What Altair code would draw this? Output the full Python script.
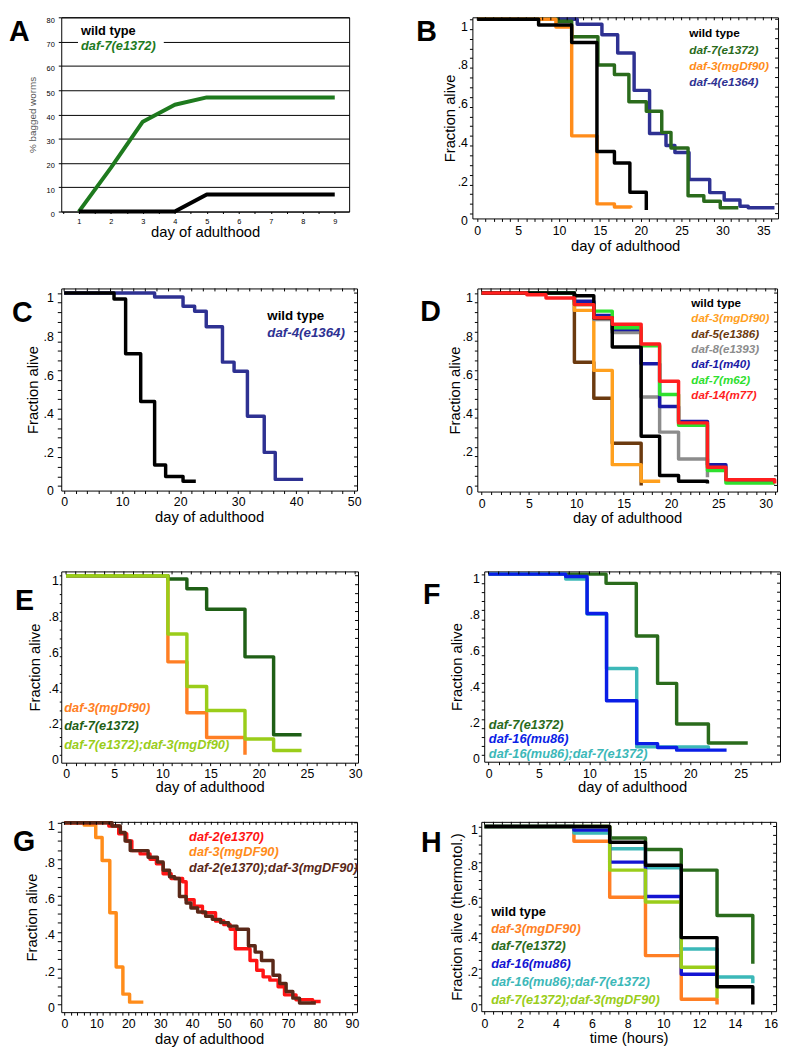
import altair as alt
import pandas as pd

FONT = "Liberation Sans"

# ---------------- Panel A data ----------------
A_DAYS = [1, 2, 3, 4, 5, 6, 7, 8, 9]
A_WILD = [0, 0, 0, 0, 7, 7, 7, 7, 7]
A_DAF7 = [0, 18, 37, 44, 47, 47, 47, 47, 47]
A_YTICKS = [0, 10, 20, 30, 40, 50, 60, 70, 80]

# ---------------- Panel B ----------------
B_WT_T = [0, 7.5, 11.55, 14.64, 16.78, 18.67, 20.68]
B_WT_V = [1, 0.97, 0.88, 0.32, 0.26, 0.11, 0.018]
B_D3_T = [0, 9.62, 11.55, 14.64, 16.78, 18.79]
B_D3_V = [1, 0.96, 0.40, 0.05, 0.034, 0.03]
B_D7_T = [0, 9.81, 11.55, 14.76, 16.78, 18.55, 20.68, 22.57, 23.7, 25.79, 27.72, 29.73, 31.94]
B_D7_V = [1, 0.99, 0.91, 0.765, 0.716, 0.576, 0.527, 0.418, 0.338, 0.092, 0.064, 0.03, 0.03]
B_D4_T = [0, 12.23, 15.25, 17.18, 19.19, 21.08, 23.09, 24.18, 25.91, 28.44, 30.21, 32.14, 33.15, 36.36]
B_D4_V = [1, 0.974, 0.92, 0.826, 0.634, 0.412, 0.35, 0.314, 0.175, 0.108, 0.07, 0.038, 0.03, 0.03]

# ---------------- Panel C ----------------
C_WT_T = [0, 8.6, 10.6, 13.2, 15.6, 17.5, 20.5, 22.7]
C_WT_V = [1, 0.969, 0.685, 0.438, 0.109, 0.049, 0.024, 0.024]
C_D4_T = [0, 15.6, 20.5, 22.5, 24.5, 27.3, 29.3, 31.6, 34.5, 36.4, 41.2]
C_D4_V = [1, 0.98, 0.932, 0.906, 0.825, 0.642, 0.595, 0.361, 0.174, 0.034, 0.034]

# ---------------- Panel D ----------------
D_STEPS = [0, 9.8, 11.85, 13.8, 16.85, 18.8, 20.8, 23.85, 25.8, 30.95]
D_WT_V = [1, 0.986, 0.87, 0.72, 0.256, 0.051, 0.022, 0.01]
D_D3_T = [0, 9.8, 11.85, 13.8, 16.85, 18.86]
D_D3_V = [1, 0.91, 0.598, 0.108, 0.022, 0.022]
D_D5_V = [1, 0.64, 0.453, 0.219, 0.0]
D_D8_V = [1, 0.95, 0.863, 0.795, 0.46, 0.277, 0.137, 0.043]
D_D1_V = [1, 0.957, 0.884, 0.81, 0.632, 0.41, 0.333, 0.108, 0.026, 0.026]
D_D7_V = [1, 0.94, 0.906, 0.82, 0.726, 0.473, 0.313, 0.077, 0.012, 0.012]
D_D14_T = [0, 4.78, 6.8, 9.8, 11.85, 13.8, 16.85, 18.8, 20.8, 23.85, 25.8, 30.95]
D_D14_V = [1, 0.991, 0.974, 0.94, 0.872, 0.838, 0.735, 0.542, 0.325, 0.094, 0.029, 0.01]

# ---------------- Panel E ----------------
E_STEPS = [0, 10.57, 12.54, 14.59, 18.57, 21.54, 24.44]
E_D3_V = [1, 0.519, 0.235, 0.097, 0.0]
E_D7_V = [1, 0.982, 0.927, 0.813, 0.547, 0.112, 0.112]
E_DD_V = [1, 0.675, 0.382, 0.248, 0.088, 0.024, 0.024]

# ---------------- Panel F ----------------
F_D7_T = [0, 11.65, 14.65, 16.76, 18.65, 21.8, 25.7]
F_D7_V = [1, 0.949, 0.658, 0.396, 0.172, 0.067, 0.067]
F_D16_T = [0, 7.65, 9.77, 11.7, 14.69, 16.76, 18.65, 23.6]
F_D16_V = [1, 0.987, 0.782, 0.300, 0.063, 0.042, 0.027, 0.027]
F_DD_T = [0, 7.65, 9.77, 11.7, 14.69, 21.8]
F_DD_V = [1, 0.973, 0.78, 0.478, 0.045, 0.028]

# ---------------- Panel G ----------------
G_D3_T = [0, 6.2, 9.8, 11.8, 14.2, 16.2, 18.3, 20.4, 24.7]
G_D3_V = [1, 0.987, 0.919, 0.793, 0.505, 0.207, 0.058, 0.014, 0.014]
G_D2_T = [0, 13.9, 17.0, 19.5, 21.1, 23.7, 26.8, 28.8, 30.9, 33.4, 37.0, 38.1, 40.6, 43.2, 47.3,
          49.9, 51.9, 53.5, 58.1, 60.2, 62.2, 64.3, 66.9, 68.9, 72.5, 77.7, 80.2]
G_D2_V = [1, 0.982, 0.94, 0.90, 0.847, 0.829, 0.80, 0.775, 0.72, 0.694, 0.676, 0.577, 0.541, 0.505, 0.46,
          0.44, 0.415, 0.307, 0.243, 0.189, 0.153, 0.135, 0.099, 0.054, 0.027, 0.018, 0.018]
G_DD_T = [0, 14.9, 17.5, 19.0, 20.6, 26.2, 29.1, 30.9, 32.9, 34.5, 36.0, 38.1, 39.6, 41.7, 44.2,
          46.3, 48.9, 51.4, 54.0, 57.6, 59.7, 61.7, 65.3, 67.4, 69.4, 71.5, 73.6, 78.7]
G_DD_V = [1, 0.982, 0.946, 0.90, 0.847, 0.81, 0.784, 0.739, 0.703, 0.694, 0.595, 0.559, 0.532, 0.51, 0.486,
          0.469, 0.451, 0.432, 0.415, 0.324, 0.289, 0.243, 0.162, 0.117, 0.072, 0.036, 0.009, 0.009]

# ---------------- Panel H ----------------
H_T6 = [0, 7, 9, 11, 13, 15]
H_T7 = [0, 5, 7, 9, 11, 13, 15]
H_WT_V = [1, 0.911, 0.782, 0.376, 0.1, 0.0]
H_D3_V = [1, 0.917, 0.603, 0.275, 0.03, 0.0]
H_D7_V = [1, 0.935, 0.871, 0.755, 0.5, 0.229]
H_D16_V = [1, 0.98, 0.80, 0.607, 0.17, 0.10]
H_DD16_V = [1, 0.963, 0.875, 0.768, 0.312, 0.155, 0.12]
H_DD73_V = [1, 0.755, 0.576, 0.21, 0.035]

# ---------------- colours ----------------
BLACK = "#000000"
DKGREEN = "#2a6b1c"
ORANGE = "#ff8c1a"
NAVY = "#2e3192"

FRACTION_TICKS = [round(i * 0.05, 2) for i in range(21)]
FRAC_EXPR = ("datum.value == 0 ? '0' : (datum.value == 1 ? '1' : "
             "(round(datum.value * 100) % 20 == 0 ? '.' + format(datum.value * 10, '.0f') : ''))")


def minor_values(lo, hi, step):
    n = int(round((hi - lo) / step))
    return [round(lo + i * step, 3) for i in range(n + 1)]


def x_axis(values, major, title, tick=3, pad=2, tp=2):
    expr = f"abs(datum.value / {major} - round(datum.value / {major})) < 0.001 ? format(datum.value, 'd') : ''"
    return alt.Axis(values=values, labelExpr=expr, title=title, tickSize=tick, labelPadding=pad,
                    titlePadding=tp, labelFontSize=12.5, titleFontSize=15, grid=False, domain=False,
                    labelOverlap=False)


def y_axis(title, tick=3, pad=2, tp=2, lo=4):
    return alt.Axis(values=FRACTION_TICKS, labelExpr=FRAC_EXPR, title=title, tickSize=tick,
                    labelPadding=pad, titlePadding=tp, labelOffset=lo, labelFontSize=12.5,
                    titleFontSize=15, grid=False, domain=False, labelOverlap=False)


def step_layer(t, v, color, X, Y, width=3.5):
    df = pd.DataFrame({"t": t, "v": v})
    return alt.Chart(df).mark_line(interpolate="step-after", color=color, strokeWidth=width,
                                   strokeJoin="round", strokeCap="butt").encode(x=X, y=Y)


def text_layer(txt, color, px, py, size=13, weight="bold", style="normal"):
    return alt.Chart(pd.DataFrame({"k": [0]})).mark_text(
        text=txt, color=color, align="left", baseline="middle", font=FONT, fontSize=size,
        fontWeight=weight, fontStyle=style).encode(x=alt.value(px), y=alt.value(py))


def surv_panel(series, xdom, ydom, w, h, xticks, xmajor, xtitle, ytitle, yp, xp, letter, lpos,
               legend, leg_x, leg_ys, leg_size=13):
    xs = alt.Scale(domain=xdom, nice=False, zero=False)
    ys = alt.Scale(domain=ydom, nice=False, zero=False)
    X = alt.X("t:Q", scale=xs, axis=x_axis(xticks, xmajor, xtitle, **xp))
    Y = alt.Y("v:Q", scale=ys, axis=y_axis(ytitle, **yp))
    layers = [step_layer(t, v, c, X, Y) for (t, v, c) in series]
    # tick marks repeated along the top and right edges of the frame (same scales and axes)
    top_ticks = alt.Chart(pd.DataFrame({"t": xticks})).mark_rule(color=BLACK, strokeWidth=1).encode(
        x=X, y=alt.value(0), y2=alt.value(3))
    right_ticks = alt.Chart(pd.DataFrame({"v": FRACTION_TICKS})).mark_rule(color=BLACK, strokeWidth=1).encode(
        y=Y, x=alt.value(w), x2=alt.value(w - 3))
    layers += [top_ticks, right_ticks]
    for (txt, col, ital), py in zip(legend, leg_ys):
        layers.append(text_layer(txt, col, leg_x, py, size=leg_size, style="italic" if ital else "normal"))
    layers.append(text_layer(letter, BLACK, lpos[0], lpos[1], size=29))
    return alt.layer(*layers).properties(width=w, height=h)


# ---------------- Panel A ----------------
XA = alt.X("day:Q", scale=alt.Scale(domain=[0.45, 9.45], nice=False, zero=False),
           axis=alt.Axis(values=minor_values(0.5, 9.0, 0.5), labelExpr="datum.value % 1 == 0 ? format(datum.value, 'd') : ''",
                         title="day of adulthood", tickSize=2, labelOverlap=False,
                         labelFontSize=7.5, labelPadding=4, titleFontSize=15, titlePadding=0,
                         grid=False, domain=False))
YA = alt.Y("pct:Q", scale=alt.Scale(domain=[0, 80], nice=False, zero=False),
           axis=alt.Axis(values=A_YTICKS, title="% bagged worms", grid=True, gridColor="black",
                         gridWidth=1, gridOpacity=1, tickSize=3, labelFontSize=7.5, labelPadding=4,
                         titleFontSize=10, titleColor="#555555", titlePadding=9, domain=False,
                         labelOffset=3))
a_df_wt = pd.DataFrame({"day": A_DAYS, "pct": A_WILD})
a_df_d7 = pd.DataFrame({"day": A_DAYS, "pct": A_DAF7})
panel_a = alt.layer(
    alt.Chart(pd.DataFrame({"k": [0]})).mark_rect(color="white").encode(
        x=alt.value(17), x2=alt.value(104), y=alt.value(8), y2=alt.value(38)),
    alt.Chart(a_df_d7).mark_line(color="#1e7a1e", strokeWidth=4, strokeJoin="round").encode(x=XA, y=YA),
    alt.Chart(a_df_wt).mark_line(color=BLACK, strokeWidth=4, strokeJoin="round").encode(x=XA, y=YA),
    text_layer("wild type", BLACK, 20, 14),
    text_layer("daf-7(e1372)", "#1e7a1e", 20, 29, style="italic"),
    text_layer("A", BLACK, -53, 15, size=29),
).properties(width=292, height=197)

panel_b = surv_panel(
    [(B_D4_T, B_D4_V, NAVY), (B_D7_T, B_D7_V, DKGREEN), (B_D3_T, B_D3_V, ORANGE), (B_WT_T, B_WT_V, BLACK)],
    [-0.6, 36.8], [-0.025, 1.01], 310, 204, minor_values(0, 36, 1), 5, "day of adulthood", "Fraction alive",
    dict(tick=3, pad=2, tp=0, lo=7), dict(tick=3, pad=3, tp=2), "B", (-57, 15),
    [("wild type", BLACK, False), ("daf-7(e1372)", DKGREEN, True), ("daf-3(mgDf90)", ORANGE, True),
     ("daf-4(e1364)", NAVY, True)], 220, [16, 33.7, 49.3, 66], leg_size=12)

panel_c = surv_panel(
    [(C_D4_T, C_D4_V, NAVY), (C_WT_T, C_WT_V, BLACK)],
    [-0.5, 50.5], [-0.024, 1.024], 300, 205, minor_values(0, 50, 2), 10, "day of adulthood", "Fraction alive",
    dict(tick=4, pad=4, tp=3, lo=5), dict(tick=3, pad=2, tp=2), "C", (-50, 25),
    [("wild type", BLACK, False), ("daf-4(e1364)", NAVY, True)], 209, [28, 45], leg_size=13.5)

panel_d = surv_panel(
    [(D_STEPS[:5], D_D5_V, "#6b3a0f"), (D_D3_T, D_D3_V, "#ffa01e"), (D_STEPS[:8], D_D8_V, "#8c8c8c"),
     (D_STEPS, D_D1_V, "#1a1aa6"), (D_STEPS, D_D7_V, "#2ee02e"), (D_STEPS[:8], D_WT_V, BLACK),
     (D_D14_T, D_D14_V, "#ff1f1f")],
    [-0.45, 31.2], [-0.032, 1.024], 304, 206, minor_values(0, 31, 1), 5, "day of adulthood", "Fraction alive",
    dict(tick=3, pad=2, tp=0, lo=5), dict(tick=3, pad=3, tp=1), "D", (-58, 24),
    [("wild type", BLACK, False), ("daf-3(mgDf90)", "#ffa01e", True), ("daf-5(e1386)", "#6b3a0f", True),
     ("daf-8(e1393)", "#8c8c8c", True), ("daf-1(m40)", "#1a1aa6", True), ("daf-7(m62)", "#2ee02e", True),
     ("daf-14(m77)", "#ff1f1f", True)], 217, [14.7 + 15.6 * i for i in range(7)], leg_size=11.8)

panel_e = surv_panel(
    [(E_STEPS[:5], E_D3_V, "#ff7f24"), (E_STEPS, E_D7_V, "#1f5f16"), (E_STEPS, E_DD_V, "#9acd1a")],
    [-0.5, 30.3], [-0.044, 1.024], 301, 194, minor_values(0, 30, 1), 5, "day of adulthood", "Fraction alive",
    dict(tick=2, pad=1, tp=6, lo=5), dict(tick=3, pad=2, tp=0), "E", (-47, 30),
    [("daf-3(mgDf90)", "#ff7f24", True), ("daf-7(e1372)", "#1f5f16", True),
     ("daf-7(e1372);daf-3(mgDf90)", "#9acd1a", True)], 3, [138.5, 157, 176])

panel_f = surv_panel(
    [(F_D7_T, F_D7_V, DKGREEN), (F_DD_T, F_DD_V, "#3cb8b8"), (F_D16_T, F_D16_V, "#0a1ee6")],
    [-0.43, 28.9], [-0.037, 1.015], 300, 193, minor_values(0, 28, 1), 5, "day of adulthood", "Fraction alive",
    dict(tick=3, pad=2, tp=5, lo=4), dict(tick=3, pad=3, tp=0), "F", (-62, 24),
    [("daf-7(e1372)", DKGREEN, True), ("daf-16(mu86)", "#0a1ee6", True),
     ("daf-16(mu86);daf-7(e1372)", "#3cb8b8", True)], 4.7, [155.7, 170.3, 185.7])

panel_g = surv_panel(
    [(G_D3_T, G_D3_V, ORANGE), (G_D2_T, G_D2_V, "#ff1414"), (G_DD_T, G_DD_V, "#5a2818")],
    [-1.0, 91.6], [-0.041, 1.005], 300, 193, minor_values(0, 90, 2), 10, "day of adulthood", "Fraction alive",
    dict(tick=4, pad=3, tp=5, lo=3), dict(tick=3, pad=3, tp=1), "G", (-49, 21),
    [("daf-2(e1370)", "#ff1414", True), ("daf-3(mgDF90)", ORANGE, True),
     ("daf-2(e1370);daf-3(mgDF90)", "#5a2818", True)], 129.7, [15.7, 30.7, 47.3])

panel_h = surv_panel(
    [(H_T7[:6], H_D3_V, "#ff7f24"), (H_T6, H_D7_V, DKGREEN), (H_T7, H_DD16_V, "#3cb8b8"),
     (H_T7[:6], H_D16_V, "#1414d2"), (H_T6[:5], H_DD73_V, "#9acd1a"), (H_T6, H_WT_V, BLACK)],
    [-0.18, 16.3], [-0.037, 1.026], 299, 192, minor_values(0, 16, 0.5), 2, "time (hours)",
    "Fraction alive (thermotol.)",
    dict(tick=3, pad=1, tp=3, lo=3), dict(tick=3, pad=4, tp=0), "H", (-61, 22),
    [("wild type", BLACK, False), ("daf-3(mgDF90)", "#ff7f24", True), ("daf-7(e1372)", DKGREEN, True),
     ("daf-16(mu86)", "#1414d2", True), ("daf-16(mu86);daf-7(e1372)", "#3cb8b8", True),
     ("daf-7(e1372);daf-3(mgDF90)", "#9acd1a", True)], 10, [91.3, 109, 126.3, 144.7, 162.3, 180.7])

row1 = alt.hconcat(panel_a, panel_b, spacing=66)
row2 = alt.hconcat(panel_c, panel_d, spacing=58)
row3 = alt.hconcat(panel_e, panel_f, spacing=60)
row4 = alt.hconcat(panel_g, panel_h, spacing=61)

chart = alt.vconcat(
    row1,
    alt.vconcat(row2, alt.vconcat(row3, row4, spacing=24), spacing=45),
    spacing=34,
).properties(
    padding={"left": 0, "top": 0, "right": 0, "bottom": 0}
).configure_view(
    stroke="black", strokeWidth=1
).configure_axis(
    labelFont=FONT, titleFont=FONT, labelColor="black", titleColor="black", tickColor="black",
    titleFontWeight="normal"
)

chart.save("out.html", embed_options={"renderer": "svg", "actions": False})
